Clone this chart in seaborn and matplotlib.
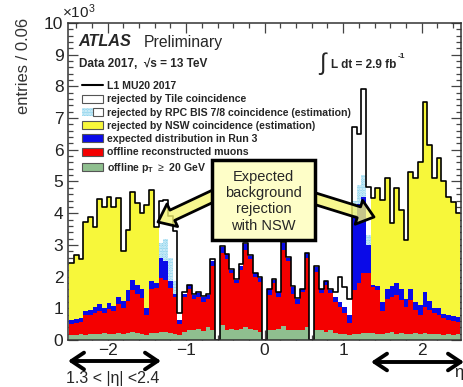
import numpy as np
import pandas as pd
import matplotlib
matplotlib.use("Agg")
import matplotlib.pyplot as plt
import seaborn as sns
from matplotlib.patches import Patch, Rectangle
from matplotlib.lines import Line2D
from matplotlib.legend_handler import HandlerTuple
from matplotlib.ticker import MultipleLocator

# ---------------------------------------------------------------- data
# 83 bins of width 0.06 in eta, centred on multiples of 0.06 (-2.46 ... 2.46)
n_bins = 83
eta_range = (-2.49, 2.49)
bin_edges = np.linspace(eta_range[0], eta_range[1], n_bins + 1)

# entries per bin, in units of 10^3
l1_total = [
    2.44, 2.67, 2.55, 3.73, 3.87, 3.57, 4.45, 4.20, 4.50, 4.20, 4.47, 2.82, 3.47, 4.66, 4.31, 4.00, 4.26, 4.73, 3.57,
    4.40, 4.42, 3.90, 3.45, 0.84, 1.50, 1.75, 1.45, 1.50, 1.40, 1.46, 2.55, 0.00, 2.95, 2.72, 2.25, 1.92, 2.40,
    3.05, 2.68, 2.12, 1.98, 0.00, 1.62, 1.92, 1.52, 3.08, 2.62, 1.70, 1.32, 1.62, 2.76, 0.00, 2.32, 1.62, 1.87,
    1.60, 1.50, 2.00, 1.68, 1.30, 6.73, 6.50, 7.91, 4.84,
    4.47, 4.78, 4.42, 5.10, 3.68, 4.78, 4.10, 3.15, 5.31, 5.10, 5.60, 7.52, 6.15, 5.10, 5.73, 5.00, 4.52, 4.36, 4.00,
]
after_tile = [
    2.44, 2.67, 2.55, 3.73, 3.87, 3.57, 4.45, 4.20, 4.50, 4.20, 4.47, 2.82, 3.47, 4.66, 4.31, 4.00, 4.26, 4.73, 3.57,
    3.05, 3.20, 2.60, 1.85, 0.62, 1.45, 1.72, 1.42, 1.48, 1.35, 1.42, 2.50, 0.00, 2.92, 2.70, 2.20, 1.88, 2.35,
    3.02, 2.65, 2.10, 1.95, 0.00, 1.60, 1.90, 1.50, 3.05, 2.60, 1.68, 1.30, 1.60, 2.74, 0.00, 2.30, 1.60, 1.85,
    1.58, 1.35, 1.20, 1.05, 0.80, 4.40, 4.90, 5.20, 3.30,
    4.47, 4.78, 4.42, 5.10, 3.68, 4.78, 4.10, 3.15, 5.31, 5.10, 5.60, 7.52, 6.15, 5.10, 5.73, 5.00, 4.52, 4.36, 4.00,
]
after_bis = [
    2.44, 2.67, 2.55, 3.73, 3.87, 3.57, 4.45, 4.20, 4.50, 4.20, 4.47, 2.82, 3.47, 4.66, 4.31, 4.00, 4.26, 4.73, 3.57,
    2.60, 2.50, 1.85, 1.45, 0.62, 1.45, 1.72, 1.42, 1.48, 1.35, 1.42, 2.50, 0.00, 2.92, 2.70, 2.20, 1.88, 2.35,
    3.02, 2.65, 2.10, 1.95, 0.00, 1.60, 1.90, 1.50, 3.05, 2.60, 1.68, 1.30, 1.60, 2.74, 0.00, 2.30, 1.60, 1.85,
    1.58, 1.35, 1.20, 1.05, 0.80, 3.94, 4.30, 4.52, 3.00,
    4.47, 4.78, 4.42, 5.10, 3.68, 4.78, 4.10, 3.15, 5.31, 5.10, 5.60, 7.52, 6.15, 5.10, 5.73, 5.00, 4.52, 4.36, 4.00,
]
run3_expected = [
    0.63, 0.65, 0.68, 0.93, 0.95, 1.05, 1.12, 1.02, 1.18, 1.08, 1.35, 1.22, 1.58, 1.88, 1.72, 1.62, 1.00, 1.85, 1.80,
    2.60, 2.50, 1.85, 1.45, 0.62, 1.45, 1.72, 1.42, 1.48, 1.35, 1.42, 2.50, 0.00, 2.92, 2.70, 2.20, 1.88, 2.35,
    3.02, 2.65, 2.10, 1.95, 0.00, 1.60, 1.90, 1.50, 3.05, 2.60, 1.68, 1.30, 1.60, 2.74, 0.00, 2.30, 1.60, 1.85,
    1.58, 1.35, 1.20, 1.05, 0.80, 3.94, 4.30, 4.52, 3.00,
    1.75, 1.70, 1.20, 1.60, 1.70, 1.80, 1.62, 1.30, 1.60, 1.20, 1.10, 1.50, 1.22, 1.00, 1.00, 0.82, 0.80, 0.75, 0.72,
]
offline_muons = [
    0.52, 0.54, 0.56, 0.78, 0.80, 0.84, 0.92, 0.86, 0.98, 0.92, 1.12, 1.02, 1.22, 1.58, 1.45, 1.32, 0.78, 1.62, 1.65,
    1.95, 1.90, 1.65, 1.35, 0.50, 1.35, 1.60, 1.30, 1.35, 1.20, 1.30, 2.35, 0.00, 2.75, 2.55, 2.10, 1.80, 2.20,
    2.85, 2.55, 2.00, 1.84, 0.00, 1.42, 1.79, 1.37, 2.84, 2.50, 1.45, 1.15, 1.50, 2.58, 0.00, 2.16, 1.47, 1.73,
    1.47, 1.20, 1.05, 0.84, 0.55, 1.58, 1.80, 2.10, 2.10,
    1.68, 1.58, 0.90, 1.30, 1.35, 1.42, 1.26, 1.05, 1.26, 0.95, 0.80, 1.05, 0.95, 0.85, 0.80, 0.68, 0.63, 0.60, 0.58,
]
offline_pt20 = [
    0.15, 0.17, 0.18, 0.17, 0.19, 0.20, 0.18, 0.21, 0.19, 0.20, 0.22, 0.19, 0.22, 0.24, 0.21, 0.20, 0.17, 0.22, 0.23,
    0.25, 0.25, 0.22, 0.20, 0.15, 0.25, 0.30, 0.30, 0.35, 0.28, 0.40, 0.30, 0.00, 0.47, 0.30, 0.35, 0.30, 0.35,
    0.42, 0.35, 0.30, 0.25, 0.00, 0.30, 0.30, 0.35, 0.45, 0.30, 0.30, 0.30, 0.30, 0.40, 0.00, 0.30, 0.30, 0.25,
    0.30, 0.22, 0.20, 0.18, 0.15, 0.20, 0.20, 0.22, 0.22,
    0.22, 0.20, 0.18, 0.22, 0.24, 0.20, 0.22, 0.18, 0.20, 0.21, 0.19, 0.22, 0.20, 0.18, 0.19, 0.17, 0.18, 0.17, 0.20,
]

legend_labels = [
    "L1 MU20 2017",
    "rejected by Tile coincidence",
    "rejected by RPC BIS 7/8 coincidence (estimation)",
    "rejected by NSW coincidence (estimation)",
    "expected distribution in Run 3",
    "offline reconstructed muons",
    r"offline $\mathbf{p}_\mathbf{T}$ $\geq$ 20 GeV",
]

df = pd.DataFrame({
    "eta": (bin_edges[:-1] + bin_edges[1:]) / 2,
    "l1_total": l1_total,
    "after_tile": after_tile,
    "after_bis": after_bis,
    "run3_expected": run3_expected,
    "offline_muons": offline_muons,
    "offline_pt20": offline_pt20,
})

# ---------------------------------------------------------------- style
sns.set_theme(style="ticks")
plt.rcParams["font.family"] = ["Liberation Sans", "DejaVu Sans"]
plt.rcParams["mathtext.fontset"] = "custom"
plt.rcParams["mathtext.rm"] = "Liberation Sans"
plt.rcParams["mathtext.bf"] = "Liberation Sans:bold"
plt.rcParams["hatch.linewidth"] = 1.3

C_YELLOW = "#f7f73a"
C_CYAN = "#8ed3ec"
C_BLUE = "#0a0ae8"
C_RED = "#f40000"
C_GREEN = "#8fbf8f"

W, H = 464, 387


def fpos(x, y):
    """pixel position (from top-left) -> figure fraction"""
    return x / W, 1 - y / H


fig = plt.figure(figsize=(W / 100, H / 100), dpi=100)
fig.patch.set_facecolor("white")
ax = fig.add_axes([68.3 / W, 1 - 340 / H, (461 - 68.3) / W, (340 - 23) / H])

hist_kw = dict(data=df, x="eta", bins=n_bins, binrange=eta_range, element="step", ax=ax)

# overlaid histograms, from the widest selection down to the tightest
layers = [
    ("l1_total", dict(color="white")),
    ("after_tile", dict(color=C_CYAN, hatch="......", edgecolor="#e6f7fd")),
    ("after_bis", dict(color=C_YELLOW)),
    ("run3_expected", dict(color=C_BLUE)),
    ("offline_muons", dict(color=C_RED)),
    ("offline_pt20", dict(color=C_GREEN)),
]
for col, kw in layers:
    sns.histplot(weights=col, fill=True, alpha=1, linewidth=0, **hist_kw, **kw)

sns.histplot(weights="l1_total", fill=False, color="black", linewidth=1.2, **hist_kw)

# ---------------------------------------------------------------- axes
ax.set_xlim(-2.5, 2.5)
ax.set_ylim(0, 10)
ax.set_xlabel("")
ax.set_ylabel("")
ax.xaxis.set_major_locator(MultipleLocator(1))
ax.xaxis.set_minor_locator(MultipleLocator(0.2))
ax.yaxis.set_major_locator(MultipleLocator(1))
ax.yaxis.set_minor_locator(MultipleLocator(0.2))
ax.tick_params(which="both", direction="in", top=True, right=True, color="#444444", width=0.9)
ax.tick_params(which="major", length=7)
ax.tick_params(which="minor", length=3.5)
ax.tick_params(axis="y", labelsize=12.5, pad=3.5, labelcolor="#222222")
ax.tick_params(axis="x", labelsize=12.5, pad=2.5, labelcolor="#222222")
for s in ax.spines.values():
    s.set_linewidth(1.1)
    s.set_color("#333333")

fig.text(*fpos(24, 66), "entries / 0.06", rotation=90, ha="center", va="center",
         fontsize=12, color="#333333")
fig.text(*fpos(62, 12), r"$\mathregular{\times10^{3}}$", ha="left", va="center",
         fontsize=11, color="#222222")
fig.text(*fpos(454, 372), "\u03b7", ha="left", va="center", fontsize=12, color="#222222")

# ---------------------------------------------------------------- labels
fig.text(*fpos(78, 42), "ATLAS", fontsize=11.7, fontweight="bold", style="italic", va="center")
fig.text(*fpos(144, 42), "Preliminary", fontsize=11.3, va="center")
fig.text(*fpos(79, 64), "Data 2017,  \u221as = 13 TeV", fontsize=8.5, fontweight="bold", va="center")
fig.text(*fpos(319, 64), "\u222b", fontsize=17, va="center")
fig.text(*fpos(331, 65), "L dt = 2.9 fb", fontsize=8.5, fontweight="bold", va="center")
fig.text(*fpos(398, 57), "-1", fontsize=6, fontweight="bold", va="center")

edge = "#555555"
handles = [
    Line2D([], [], color="black", lw=1.5),
    Patch(facecolor="white", edgecolor=edge, lw=0.8),
    (Patch(facecolor=C_CYAN, hatch="......", edgecolor="#e6f7fd", lw=0),
     Patch(fill=False, edgecolor=edge, lw=0.8)),
    Patch(facecolor=C_YELLOW, edgecolor=edge, lw=0.8),
    Patch(facecolor=C_BLUE, edgecolor=edge, lw=0.8),
    Patch(facecolor=C_RED, edgecolor=edge, lw=0.8),
    Patch(facecolor=C_GREEN, edgecolor=edge, lw=0.8),
]
ax.legend(handles, legend_labels, loc="upper left", bbox_to_anchor=fpos(82, 81),
          bbox_transform=fig.transFigure, frameon=False, borderpad=0, borderaxespad=0,
          handlelength=2.0, handleheight=0.8, handletextpad=0.35, labelspacing=0.31,
          prop=dict(size=7.6, weight="bold"),
          handler_map={tuple: HandlerTuple(ndivide=None, pad=0)})

# ---------------------------------------------------------------- callout
arrow_kw = dict(arrowstyle="simple,head_length=0.95,head_width=1.5,tail_width=0.68",
                fc=(0.96, 0.96, 0.45, 0.8), ec="black", lw=2.0, mutation_scale=12,
                shrinkA=0, shrinkB=0)
ax.annotate("", xy=fpos(158, 222), xytext=fpos(226, 190), xycoords="figure fraction",
            textcoords="figure fraction", arrowprops=arrow_kw)
ax.annotate("", xy=fpos(374, 217), xytext=fpos(300, 194), xycoords="figure fraction",
            textcoords="figure fraction", arrowprops=arrow_kw)

x0, y0 = fpos(212, 240)
x1, y1 = fpos(315, 160)
fig.patches.append(Rectangle((x0, y0), x1 - x0, y1 - y0, transform=fig.transFigure,
                             facecolor="#fefec8", edgecolor="black", lw=2.5, zorder=5))
for i, line in enumerate(["Expected", "background", "rejection", "with NSW"]):
    fig.text(*fpos(263.5, 176.5 + 16.5 * i), line, ha="center", va="center",
             fontsize=10.5, zorder=6)

# ---------------------------------------------------------------- eta ranges
range_kw = dict(arrowstyle="<->,head_length=0.45,head_width=0.3", color="black", lw=2.8,
                mutation_scale=20, shrinkA=0, shrinkB=0)
ax.annotate("", xy=fpos(68, 361), xytext=fpos(161, 361), xycoords="figure fraction",
            textcoords="figure fraction", arrowprops=range_kw, annotation_clip=False)
ax.annotate("", xy=fpos(371, 362), xytext=fpos(464, 362), xycoords="figure fraction",
            textcoords="figure fraction", arrowprops=range_kw, annotation_clip=False)
fig.text(*fpos(113, 378), "1.3 < |\u03b7| <2.4", ha="center", va="center", fontsize=11.5)

fig.savefig("out.png", dpi=100)
